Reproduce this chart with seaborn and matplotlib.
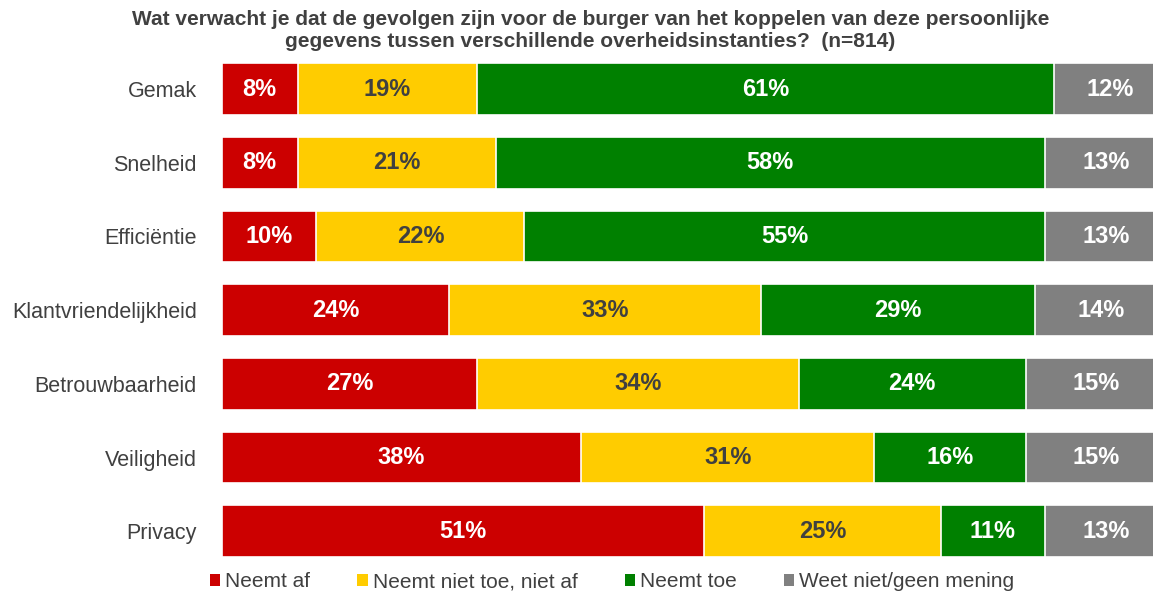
import numpy as np
import pandas as pd
import matplotlib
matplotlib.use("Agg")
import matplotlib.pyplot as plt
import seaborn as sns
from matplotlib.patches import Patch

categories = ["Gemak", "Snelheid", "Efficiëntie", "Klantvriendelijkheid",
              "Betrouwbaarheid", "Veiligheid", "Privacy"]
neemt_af = [8, 8, 10, 24, 27, 38, 51]
neutraal = [19, 21, 22, 33, 34, 31, 25]
neemt_toe = [61, 58, 55, 29, 24, 16, 11]
weet_niet = [12, 13, 13, 14, 15, 15, 13]
series_names = ["Neemt af", "Neemt niet toe, niet af", "Neemt toe", "Weet niet/geen mening"]
colors = ["#CC0000", "#FFCC00", "#008000", "#808080"]
text_colors = ["white", "#404040", "white", "white"]
title = ("Wat verwacht je dat de gevolgen zijn voor de burger van het koppelen van deze persoonlijke\n"
         "gegevens tussen verschillende overheidsinstanties?  (n=814)")

sns.set_theme(style="white")
plt.rcParams['font.family'] = ['Liberation Sans', 'DejaVu Sans']

series = [neemt_af, neutraal, neemt_toe, weet_niet]
cum = np.cumsum(np.array(series, dtype=float), axis=0)
df = pd.DataFrame({"cat": categories})
for i, name in enumerate(series_names):
    df[name] = cum[i]

fig = plt.figure(figsize=(11.53, 5.93), dpi=100)
ax = fig.add_axes([0.1925, 0.042, 0.82, 0.870])

for i in reversed(range(4)):
    sns.barplot(data=df, x=series_names[i], y="cat", order=categories, orient="h",
                color=colors[i], width=0.7, edgecolor="white", linewidth=1.2,
                saturation=1, ax=ax)

for i in range(4):
    starts = cum[i] - np.array(series[i])
    for j, v in enumerate(series[i]):
        ax.text(starts[j] + v / 2, j, f"{v}%", ha="center", va="center",
                color=text_colors[i], fontsize=17, fontweight="bold")

ax.set_xlim(0, 100)
ax.set_ylim(6.5, -0.5)
ax.set_xlabel("")
ax.set_ylabel("")
ax.set_xticks([])
ax.tick_params(axis="y", length=0, pad=18, labelsize=15.5, labelcolor="#404040")
for s in ax.spines.values():
    s.set_visible(False)

fig.text(0.512, 0.983, title, ha="center", va="top", fontsize=15,
         fontweight="bold", color="#404040", linespacing=1.2)

handles = [Patch(facecolor=c, edgecolor="none") for c in colors]
fig.legend(handles, series_names, loc="lower center", bbox_to_anchor=(0.531, -0.029),
           ncol=4, frameon=False, fontsize=15, handlelength=0.5, handleheight=0.5,
           handletextpad=0.25, columnspacing=2.25, labelcolor="#404040")

fig.savefig("out.png", dpi=100)
